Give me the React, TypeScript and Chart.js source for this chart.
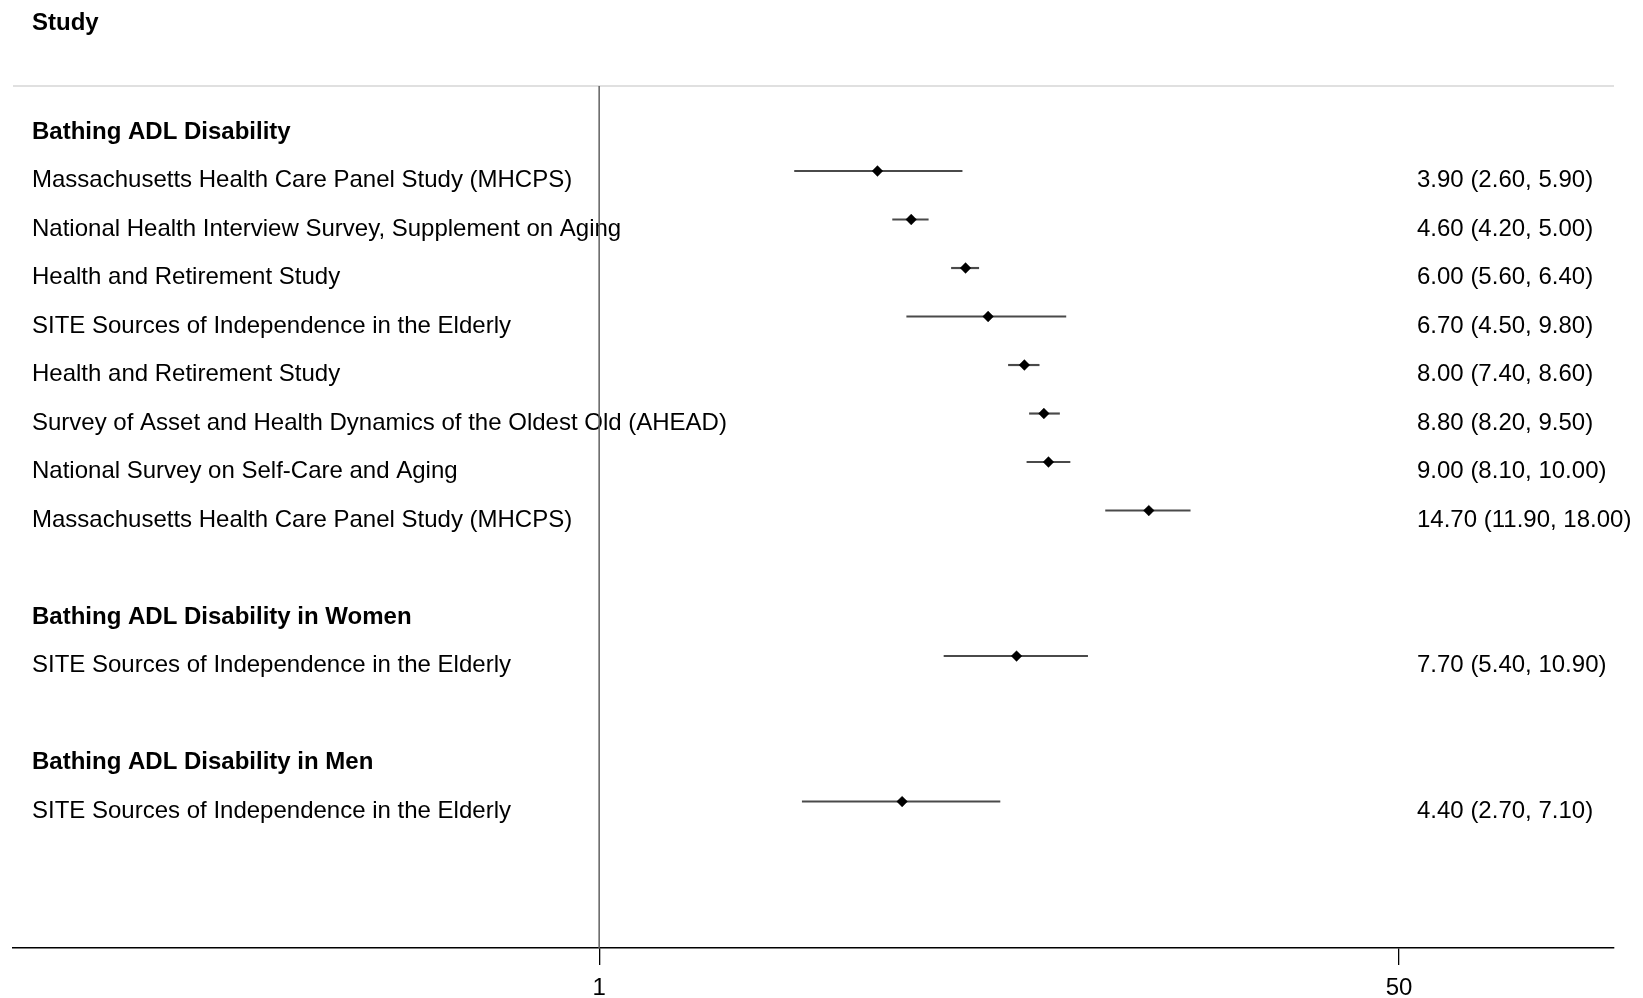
import React, { useEffect, useRef } from "react";
import { Chart, registerables } from "chart.js";

Chart.register(...registerables);

// ---- Data ----
const columnTitle = "Study";
const rowLabels = [
  "Bathing ADL Disability",
  "Massachusetts Health Care Panel Study (MHCPS)",
  "National Health Interview Survey, Supplement on Aging",
  "Health and Retirement Study",
  "SITE Sources of Independence in the Elderly",
  "Health and Retirement Study",
  "Survey of Asset and Health Dynamics of the Oldest Old (AHEAD)",
  "National Survey on Self-Care and Aging",
  "Massachusetts Health Care Panel Study (MHCPS)",
  "",
  "Bathing ADL Disability in Women",
  "SITE Sources of Independence in the Elderly",
  "",
  "Bathing ADL Disability in Men",
  "SITE Sources of Independence in the Elderly",
];
const isHeader = [true, false, false, false, false, false, false, false, false, false, true, false, false, true, false];
const estimates = [null, 3.9, 4.6, 6.0, 6.7, 8.0, 8.8, 9.0, 14.7, null, null, 7.7, null, null, 4.4];
const lowerCI = [null, 2.6, 4.2, 5.6, 4.5, 7.4, 8.2, 8.1, 11.9, null, null, 5.4, null, null, 2.7];
const upperCI = [null, 5.9, 5.0, 6.4, 9.8, 8.6, 9.5, 10.0, 18.0, null, null, 10.9, null, null, 7.1];
const xTickValues = [1, 50];
const referenceValue = 1;
const xMin = 0.0569;
const xMax = 143;
const yMin = -0.753;
const yMax = 17.02;

const FONT_FAMILY = '"Liberation Sans", Arial, Helvetica, sans-serif';

const fmt = (v: number) => v.toFixed(2);

const forestPlugin = {
  id: "forestText",
  beforeDatasetsDraw(chart: any) {
    const { ctx, chartArea, scales } = chart;
    const y = scales.y;
    const x = scales.x;
    ctx.save();
    // separator line at top of plot region
    ctx.strokeStyle = "#d6d6d6";
    ctx.lineWidth = 1.6;
    ctx.beginPath();
    ctx.moveTo(chartArea.left, chartArea.top);
    ctx.lineTo(chartArea.right, chartArea.top);
    ctx.stroke();

    // column title
    ctx.fillStyle = "#000";
    ctx.textBaseline = "alphabetic";
    ctx.textAlign = "left";
    ctx.font = `bold 24px ${FONT_FAMILY}`;
    ctx.fillText(columnTitle, chartArea.left + 19, chartArea.top - 56.5);

    // row labels and estimate text
    rowLabels.forEach((label, i) => {
      const py = y.getPixelForValue(i) + 16;
      if (label) {
        ctx.font = `${isHeader[i] ? "bold " : ""}24px ${FONT_FAMILY}`;
        ctx.fillText(label, chartArea.left + 19, py);
      }
      const est = estimates[i];
      const lo = lowerCI[i];
      const hi = upperCI[i];
      if (est != null && lo != null && hi != null) {
        ctx.font = `24px ${FONT_FAMILY}`;
        ctx.fillText(`${fmt(est)} (${fmt(lo)}, ${fmt(hi)})`, chartArea.right - 197, py);
      }
    });

    // reference line
    const rx = x.getPixelForValue(referenceValue);
    ctx.strokeStyle = "#606060";
    ctx.lineWidth = 1.5;
    ctx.beginPath();
    ctx.moveTo(rx, chartArea.top);
    ctx.lineTo(rx, chartArea.bottom);
    ctx.stroke();
    ctx.restore();
  },
};

export default function App() {
  const canvasRef = useRef<HTMLCanvasElement | null>(null);

  useEffect(() => {
    document.body.style.margin = "0";
    document.body.style.overflow = "hidden";
    const canvas = canvasRef.current;
    if (!canvas) return;

    const idx = estimates.map((_, i) => i).filter((i) => estimates[i] != null);

    const chart = new Chart(canvas, {
      type: "scatter",
      data: {
        datasets: [
          {
            type: "scatter",
            data: idx.map((i) => ({ x: estimates[i] as number, y: i })),
            pointStyle: "rectRot",
            pointRadius: 5.4,
            pointHoverRadius: 5.4,
            backgroundColor: "#000",
            borderColor: "rgba(0,0,0,0.35)",
            borderWidth: 1,
            order: 0,
          } as any,
          {
            type: "bar",
            indexAxis: "y",
            data: idx.map((i) => ({ x: [lowerCI[i], upperCI[i]], y: i })),
            backgroundColor: "#4a4a4a",
            borderWidth: 0,
            barThickness: 1.5,
            order: 1,
          } as any,
        ],
      },
      options: {
        responsive: false,
        animation: false,
        events: [],
        layout: { padding: { left: 13, right: 29, top: 86, bottom: -14 } },
        plugins: { legend: { display: false }, tooltip: { enabled: false } },
        scales: {
          x: {
            type: "logarithmic",
            min: xMin,
            max: xMax,
            offset: false,
            afterBuildTicks: (scale: any) => {
              scale.ticks = xTickValues.map((v) => ({ value: v }));
            },
            ticks: {
              autoSkip: false,
              maxRotation: 0,
              color: "#000",
              padding: 11.5,
              font: { family: FONT_FAMILY, size: 24, lineHeight: 1 },
              callback: (v: any) => String(v),
            },
            grid: {
              display: true,
              offset: false,
              drawOnChartArea: false,
              drawTicks: true,
              tickLength: 17,
              color: "#000",
              lineWidth: 1.3,
            },
            border: { display: true, color: "#000", width: 1.5 },
          },
          y: {
            type: "linear",
            reverse: true,
            min: yMin,
            max: yMax,
            offset: false,
            display: false,
            grid: { display: false, offset: false },
          },
        },
      } as any,
      plugins: [forestPlugin],
    });

    return () => chart.destroy();
  }, []);

  return <canvas ref={canvasRef} width={1643} height={998} style={{ display: "block" }} />;
}
